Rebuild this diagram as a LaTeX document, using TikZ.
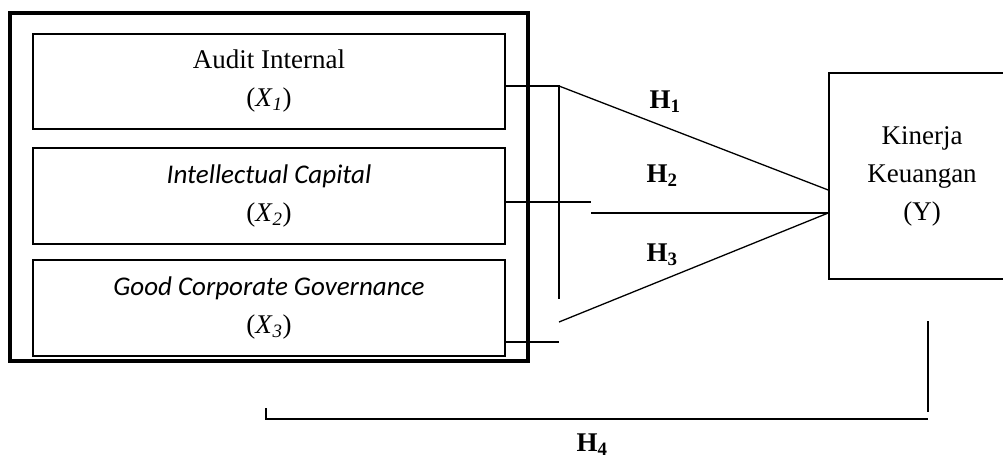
\documentclass[tikz,border=0pt]{standalone}
\usepackage{fontspec}
\setmainfont{Liberation Serif}
\newfontfamily\calibri{Carlito}
\usepackage{tikz}
\usetikzlibrary{shapes,arrows}

\begin{document}
\begin{tikzpicture}[x=1pt, y=-1pt, line width=1.3pt,
    varbox/.style={draw, rectangle, line width=1.6pt, minimum width=472pt, minimum height=95pt, align=center, font=\fontsize{27}{38}\selectfont},
    hlabel/.style={font=\fontsize{27}{32}\selectfont\bfseries}]
    \useasboundingbox (0,0) rectangle (1003,458);
    \clip (0,0) rectangle (1003,458);

    \node[draw, rectangle, line width=3.5pt, minimum width=518pt, minimum height=348pt] (group) at (269,187) {};
    \node[varbox] (audit) at (269,81.5) {Audit Internal\\(\textit{X}\textsubscript{\textit{1}})};
    \node[varbox, minimum height=96pt] (ic) at (269,196) {{\calibri\itshape Intellectual Capital}\\(\textit{X}\textsubscript{\textit{2}})};
    \node[varbox, minimum height=96pt] (gcg) at (269,308) {{\calibri\itshape Good Corporate Governance}\\(\textit{X}\textsubscript{\textit{3}})};
    \node[draw, rectangle, line width=1.6pt, minimum width=186pt, minimum height=206pt, align=center, font=\fontsize{27}{38}\selectfont] (kinerja) at (922,176) {Kinerja\\Keuangan\\(Y)};

    \coordinate (j1) at (559,86);
    \coordinate (jb) at (559,299);
    \coordinate (j2a) at (591,202);
    \coordinate (j2b) at (591,213);
    \coordinate (j3) at (559,322);
    \coordinate (j4) at (559,342);
    \coordinate (t1) at (266,408);
    \coordinate (t2) at (266,419);
    \coordinate (t3) at (928,419);
    \coordinate (v1) at (928,321);
    \coordinate (v2) at (928,412);

    \draw ([yshift=-4.5pt]audit.east) -- (j1) -- (jb);
    \draw (j1) -- ([yshift=-14pt]kinerja.west);
    \draw ([yshift=-6pt]ic.east) -- (j2a);
    \draw (j2b) -- ([yshift=-37pt]kinerja.west);
    \draw (j3) -- ([yshift=-37pt]kinerja.west);
    \draw ([yshift=-34pt]gcg.east) -- (j4);
    \draw (t1) -- (t2) -- (t3);
    \draw (v1) -- (v2);

    \node[hlabel] (h1) at (665,102) {H\textsubscript{1}};
    \node[hlabel] (h2) at (662,176) {H\textsubscript{2}};
    \node[hlabel] (h3) at (662,255) {H\textsubscript{3}};
    \node[hlabel] (h4) at (592,445) {H\textsubscript{4}};
\end{tikzpicture}
\end{document}
